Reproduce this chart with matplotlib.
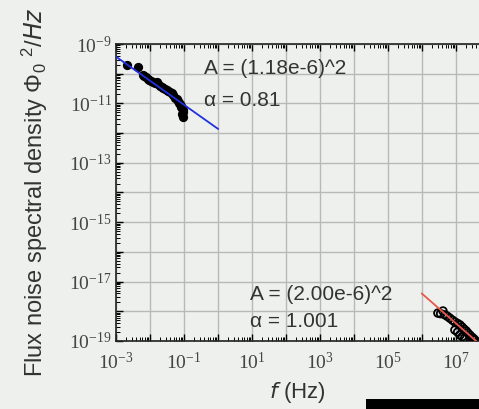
import numpy as np
import matplotlib
matplotlib.use("Agg")
import matplotlib.pyplot as plt
from matplotlib.ticker import FixedLocator, FixedFormatter, LogLocator, NullFormatter

# low-frequency data (black dots), log10 values
lf_logf = [-2.69, -2.36, -2.21, -2.17, -2.12, -2.06, -2.02, -1.97, -1.91, -1.86, -1.80,
           -1.76, -1.71, -1.66, -1.61, -1.56, -1.51, -1.46, -1.41, -1.36, -1.31,
           -1.26, -1.22, -1.18, -1.15, -1.12, -1.09, -1.06, -1.04, -1.03, -1.02,
           -1.10, -1.05]
lf_logS = [-9.71, -9.78, -10.04, -10.08, -10.12, -10.18, -10.20, -10.24, -10.28, -10.31, -10.27,
           -10.36, -10.41, -10.45, -10.48, -10.52, -10.56, -10.59, -10.62, -10.66, -10.72,
           -10.82, -10.86, -10.92, -10.97, -11.02, -11.08, -11.15, -11.22, -11.29, -11.45,
           -11.12, -11.36]

# high-frequency data (open circles)
hf_logf = [6.47, 6.55, 6.62, 6.68, 6.75, 6.82, 6.90, 6.97, 7.05, 7.12, 7.18, 7.24,
           7.30, 7.35, 7.41, 7.47, 7.52, 7.56, 6.97, 7.05, 7.12, 7.19, 7.26]
hf_logS = [-18.06, -18.08, -17.99, -18.12, -18.17, -18.23, -18.30, -18.36, -18.41, -18.46,
           -18.53, -18.60, -18.66, -18.73, -18.80, -18.87, -18.92, -18.97, -18.63, -18.70,
           -18.80, -18.85, -18.90]

# fits S = A / f^alpha
fit1 = dict(A=(1.18e-6) ** 2, alpha=0.81, fmin=1e-3, fmax=1.0)
fit2 = dict(A=(2.00e-6) ** 2, alpha=1.001, fmin=1e6, fmax=10 ** 7.7)

bg = "#eef0ee"
fig = plt.figure(figsize=(4.79, 4.09), dpi=100, facecolor=bg)
ax = fig.add_axes([0.2422, 0.1663, 0.7578, 0.7261])
ax.set_facecolor(bg)
ax.set_xscale("log")
ax.set_yscale("log")

ax.scatter(10 ** np.array(lf_logf), 10 ** np.array(lf_logS), s=32, color="black", zorder=3)
ax.scatter(10 ** np.array(hf_logf), 10 ** np.array(hf_logS), s=30, facecolor="none",
           edgecolor="black", linewidth=1.3, zorder=3)

for fit, col in [(fit1, "#2030dd"), (fit2, "#e8574a")]:
    f = np.logspace(np.log10(fit["fmin"]), np.log10(fit["fmax"]), 50)
    ax.plot(f, fit["A"] / f ** fit["alpha"], color=col, lw=1.3, zorder=4)

ax.set_xlim(1e-3, 10 ** 7.68)
ax.set_ylim(1e-19, 1e-9)

xmaj = [10.0 ** k for k in range(-3, 8)]
ymaj = [10.0 ** k for k in range(-19, -8)]
xlab = [r"$\mathregular{10^{%d}}$" % k if k % 2 else "" for k in range(-3, 8)]
ylab = [r"$\mathregular{10^{%d}}$" % k if k % 2 else "" for k in range(-19, -8)]
ax.xaxis.set_major_locator(FixedLocator(xmaj))
ax.xaxis.set_major_formatter(FixedFormatter(xlab))
ax.yaxis.set_major_locator(FixedLocator(ymaj))
ax.yaxis.set_major_formatter(FixedFormatter(ylab))
ax.xaxis.set_minor_locator(LogLocator(base=10, subs=np.arange(2, 10), numticks=50))
ax.yaxis.set_minor_locator(LogLocator(base=10, subs=np.arange(2, 10), numticks=50))
ax.xaxis.set_minor_formatter(NullFormatter())
ax.yaxis.set_minor_formatter(NullFormatter())

ax.tick_params(which="both", direction="in", top=True, right=False, colors="black")
ax.tick_params(which="major", length=5, width=1)
ax.tick_params(which="minor", length=3, width=0.7)
for lbl in ax.get_xticklabels() + ax.get_yticklabels():
    lbl.set_family("Liberation Serif")
    lbl.set_fontsize(14)
    lbl.set_color("#444444")
ax.tick_params(axis="x", pad=8)
ax.tick_params(axis="y", pad=3)

ax.grid(True, which="major", color="#b8b8b8", lw=1)
ax.set_axisbelow(True)
ax.spines["right"].set_visible(False)
for s in ["left", "bottom", "top"]:
    ax.spines[s].set_color("#222222")
    ax.spines[s].set_linewidth(1.2)

tk = dict(family="Liberation Sans", fontsize=15, color="#333333")
ax.text(10 ** -0.41, 10 ** -9.81, "A = (1.18e-6)^2", ha="left", va="center", **tk)
ax.text(10 ** -0.41, 10 ** -10.89, "\u03b1 = 0.81", ha="left", va="center", **tk)
ax.text(10 ** 0.94, 10 ** -17.45, "A = (2.00e-6)^2", ha="left", va="center", **tk)
ax.text(10 ** 0.94, 10 ** -18.36, "\u03b1 = 1.001", ha="left", va="center", **tk)

ax.set_xlabel(r"$f$ (Hz)", family="Liberation Sans", fontsize=16, color="#333333", labelpad=5)
ax.set_ylabel(r"Flux noise spectral density $\mathregular{\Phi_0}$ $\mathregular{^2}$/$Hz$",
              family="Liberation Sans", fontsize=17, color="#333333", labelpad=14)

fig.patches.append(plt.Rectangle((366 / 479, 0), 113 / 479, 10 / 409, transform=fig.transFigure,
                                 facecolor="black", edgecolor="none"))

fig.savefig("out.png", dpi=100, facecolor=bg)
